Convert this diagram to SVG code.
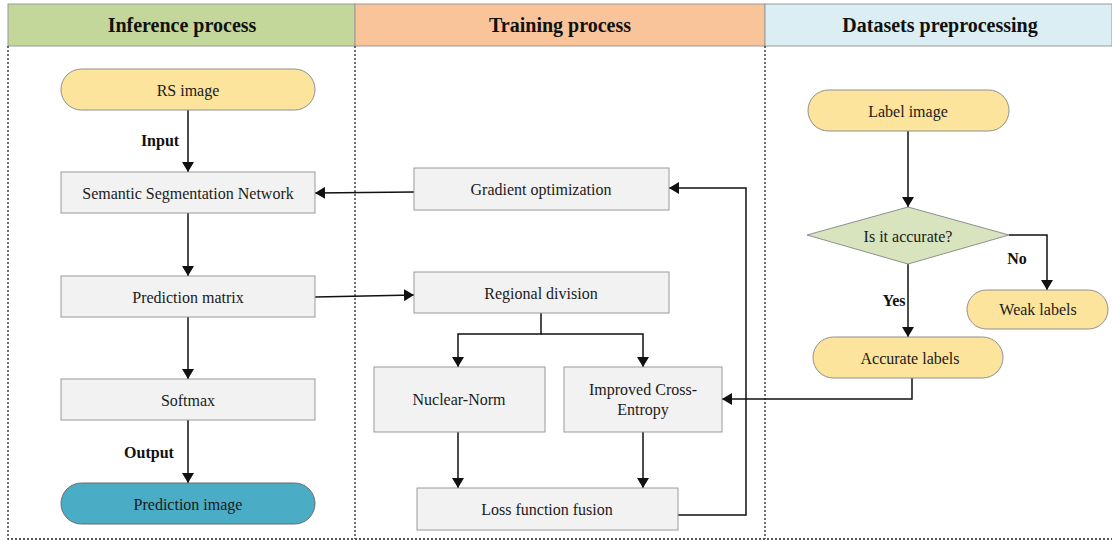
<svg xmlns="http://www.w3.org/2000/svg" width="1112" height="541" viewBox="0 0 1112 541">
<defs>
<style>
.t{font-family:"Liberation Serif","Times New Roman",serif;font-size:16px;fill:#1a1a1a;text-anchor:middle;dominant-baseline:central}
.h{font-family:"Liberation Serif","Times New Roman",serif;font-size:20px;font-weight:bold;fill:#111;text-anchor:middle;dominant-baseline:central}
.b{font-family:"Liberation Serif","Times New Roman",serif;font-size:16px;font-weight:bold;fill:#111;text-anchor:middle;dominant-baseline:central}
.box{fill:#f2f2f2;stroke:#9a9a9a;stroke-width:1}
.pill{fill:#fde49c;stroke:#8f8f8f;stroke-width:1}
.dash{stroke:#222;stroke-width:1.3;stroke-dasharray:2,2;fill:none}
.c{stroke:#111;stroke-width:1.5;fill:none}
</style>
<marker id="ar" viewBox="0 0 10 12" refX="10" refY="6" markerWidth="10" markerHeight="12" markerUnits="userSpaceOnUse" orient="auto">
<path d="M0,0 L10,6 L0,12 z" fill="#111"/>
</marker>
</defs>
<rect width="1112" height="541" fill="#fff"/>
<g id="headers">
<rect x="8" y="4" width="347" height="42" fill="#c4d79b" stroke="#999"/>
<rect x="355" y="4" width="410" height="42" fill="#f9c49a" stroke="#999"/>
<rect x="765" y="4" width="347" height="42" fill="#dbeef4" stroke="#999"/>
<text class="h" x="182" y="25">Inference process</text>
<text class="h" x="560" y="25">Training process</text>
<text class="h" x="940" y="25">Datasets preprocessing</text>
</g>
<g id="lanes">
<path class="dash" d="M8,46 V539 H1112 M355,46 V539 M765,46 V539"/>
</g>
<g id="connectors">
<path class="c" d="M188,110 V172" marker-end="url(#ar)"/>
<path class="c" d="M188,213 V276" marker-end="url(#ar)"/>
<path class="c" d="M188,317 V379" marker-end="url(#ar)"/>
<path class="c" d="M188,420 V483" marker-end="url(#ar)"/>
<path class="c" d="M414,192 L315,193" marker-end="url(#ar)"/>
<path class="c" d="M315,297 L414,295" marker-end="url(#ar)"/>
<path class="c" d="M541,313 V334 H458 V367" marker-end="url(#ar)"/>
<path class="c" d="M541,334 H643 V367" marker-end="url(#ar)"/>
<path class="c" d="M458,432 V488" marker-end="url(#ar)"/>
<path class="c" d="M643,432 V488" marker-end="url(#ar)"/>
<path class="c" d="M678,515 H746 V188 H669" marker-end="url(#ar)"/>
<path class="c" d="M908,131 V207" marker-end="url(#ar)"/>
<path class="c" d="M1009,235 H1047 V290" marker-end="url(#ar)"/>
<path class="c" d="M908,264 V337" marker-end="url(#ar)"/>
<path class="c" d="M912,378 V399 H722" marker-end="url(#ar)"/>
<text class="b" x="160" y="140">Input</text>
<text class="b" x="149" y="452">Output</text>
<text class="b" x="1017" y="258">No</text>
<text class="b" x="894" y="300">Yes</text>
</g>
<g id="rs-image">
<rect class="pill" x="61" y="69" width="254" height="41" rx="20.5"/>
<text class="t" x="188" y="90">RS image</text>
</g>
<g id="ssn">
<rect class="box" x="61" y="172" width="254" height="41"/>
<text class="t" x="188" y="193">Semantic Segmentation Network</text>
</g>
<g id="prediction-matrix">
<rect class="box" x="61" y="276" width="254" height="41"/>
<text class="t" x="188" y="297">Prediction matrix</text>
</g>
<g id="softmax">
<rect class="box" x="61" y="379" width="254" height="41"/>
<text class="t" x="188" y="400">Softmax</text>
</g>
<g id="prediction-image">
<rect x="61" y="483" width="254" height="41" rx="20.5" fill="#4bacc6" stroke="#6a6a6a"/>
<text class="t" x="188" y="504">Prediction image</text>
</g>
<g id="gradient-optimization">
<rect class="box" x="414" y="168" width="255" height="42"/>
<text class="t" x="541" y="189">Gradient optimization</text>
</g>
<g id="regional-division">
<rect class="box" x="414" y="272" width="255" height="41"/>
<text class="t" x="541" y="293">Regional division</text>
</g>
<g id="nuclear-norm">
<rect class="box" x="374" y="367" width="171" height="65"/>
<text class="t" x="459" y="399">Nuclear-Norm</text>
</g>
<g id="improved-ce">
<rect class="box" x="564" y="367" width="158" height="65"/>
<text class="t" x="643" y="389">Improved Cross-</text>
<text class="t" x="643" y="409">Entropy</text>
</g>
<g id="loss-fusion">
<rect class="box" x="417" y="488" width="261" height="42"/>
<text class="t" x="547" y="509">Loss function fusion</text>
</g>
<g id="label-image">
<rect class="pill" x="808" y="90" width="201" height="41" rx="20.5"/>
<text class="t" x="908" y="111">Label image</text>
</g>
<g id="decision">
<polygon points="807,235 908,207 1009,235 908,264" fill="#d7e4bd" stroke="#8f8f8f"/>
<text class="t" x="908" y="236">Is it accurate?</text>
</g>
<g id="weak-labels">
<rect class="pill" x="967" y="290" width="141" height="39" rx="19.5"/>
<text class="t" x="1038" y="309">Weak labels</text>
</g>
<g id="accurate-labels">
<rect class="pill" x="813" y="337" width="190" height="41" rx="20.5"/>
<text class="t" x="910" y="358">Accurate labels</text>
</g>
</svg>
